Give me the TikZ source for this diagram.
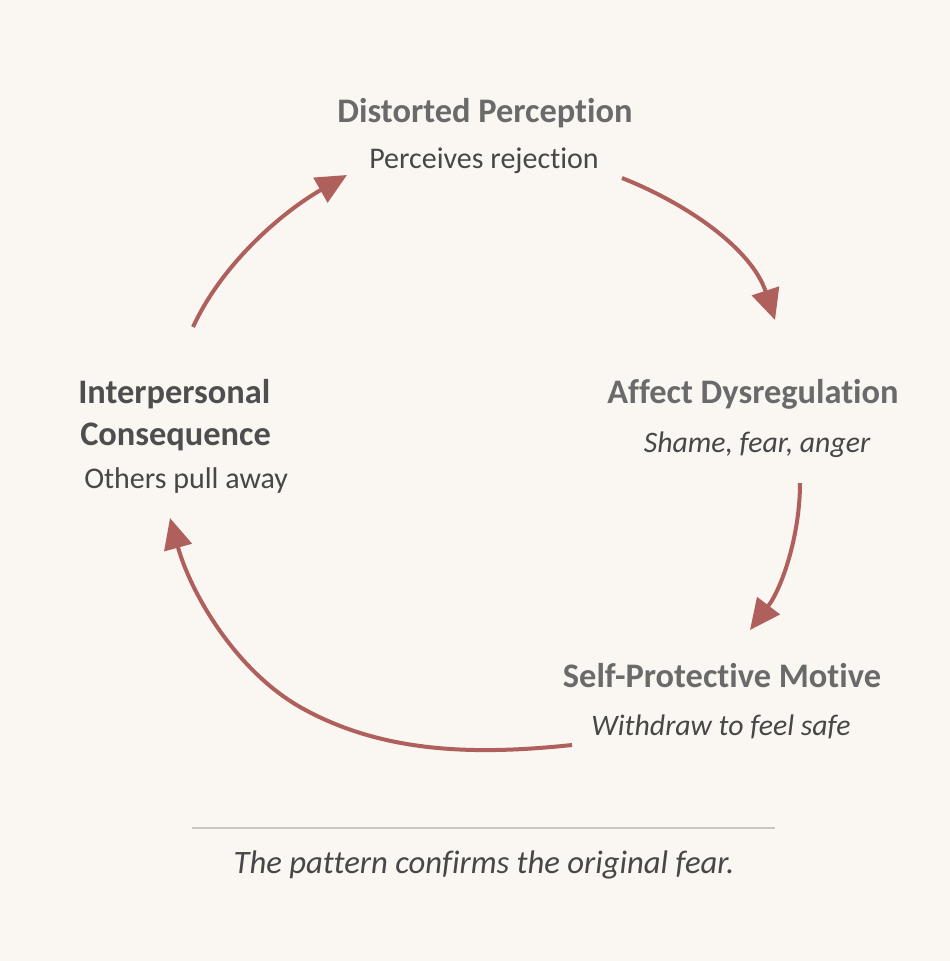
\documentclass[tikz,border=0pt]{standalone}
\usepackage{fontspec}
\setmainfont{Carlito}[Ligatures=NoCommon]
\usetikzlibrary{arrows.meta}
\definecolor{bg}{HTML}{FAF6F1}
\definecolor{arrowc}{HTML}{B0605C}
\definecolor{headc}{HTML}{6A6A6A}
\definecolor{headdark}{HTML}{4E4E4E}
\definecolor{subc}{HTML}{474747}
\definecolor{rulec}{HTML}{CBC6C1}
\begin{document}
\begin{tikzpicture}[x=0.75pt,y=-0.75pt,
  head/.style={font=\fontsize{25.8}{30}\selectfont\bfseries, text=headc, inner sep=0pt, anchor=base},
  sub/.style={font=\fontsize{22.5}{26}\selectfont, text=subc, inner sep=0pt, anchor=base},
  subit/.style={sub, font=\fontsize{22.3}{26}\selectfont\itshape},
  cyc/.style={draw=arrowc, line width=3pt, -{Triangle[length=23pt,width=21pt]}}]
\fill[bg] (0,0) rectangle (950,961);
\useasboundingbox (0,0) rectangle (950,961);
% texts
\node[head] (dp) at (485,122) {Distorted Perception};
\node[sub] (dps) at (484,168) {Perceives rejection};
\node[head] (ad) at (753,403) {Affect Dysregulation};
\node[subit] (ads) at (757,452) {Shame, fear, anger};
\node[head, text=headdark, anchor=base west] (ip1) at (78,403) {Interpersonal};
\node[head, text=headdark, anchor=base west] (ip2) at (80,445) {Consequence};
\node[sub, anchor=base west] (ips) at (84,488) {Others pull away};
\node[head] (sp) at (722,687) {Self-Protective Motive};
\node[subit] (sps) at (721,735) {Withdraw to feel safe};
% rule and footer
\coordinate (rl) at (192,828);
\coordinate (rr) at (775,828);
\draw[rulec, line width=1.2pt] (rl) -- (rr);
\node[subit, font=\fontsize{24.5}{29}\selectfont\itshape] (foot) at (484,873) {The pattern confirms the original fear.};
% arrows
\coordinate (a1s) at (622,178); \coordinate (a1e) at (775,320);
\coordinate (a2s) at (800,483); \coordinate (a2e) at (750,630);
\coordinate (a3s) at (572,745); \coordinate (a3m) at (300,707); \coordinate (a3e) at (170,518);
\coordinate (a4s) at (193,327); \coordinate (a4e) at (347,175);
\draw[cyc] (a1s) .. controls (690,205) and (752,250) .. (a1e);
\draw[cyc] (a2s) .. controls (800,535) and (782,588) .. (a2e);
\draw[cyc] (a3s) .. controls (477,755) and (383,754) .. (a3m) .. controls (234,669) and (190,591) .. (a3e);
\draw[cyc] (a4s) .. controls (223,262) and (284,211) .. (a4e);
\end{tikzpicture}
\end{document}
